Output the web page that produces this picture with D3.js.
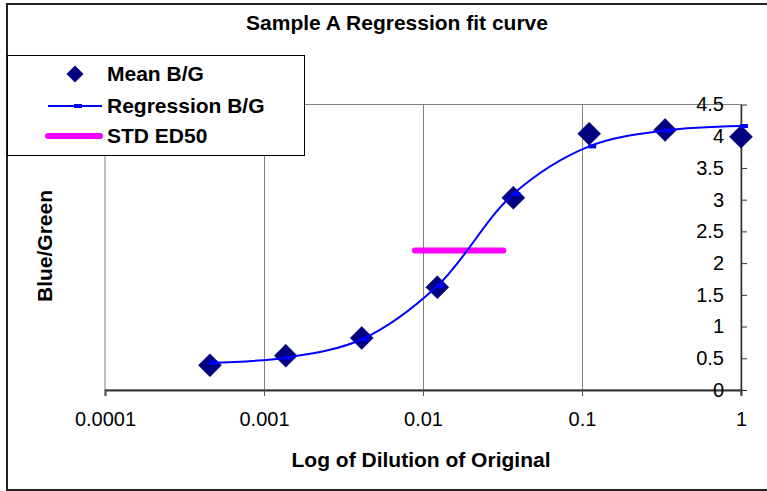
<!DOCTYPE html>
<html>
<head>
<meta charset="utf-8">
<script src="https://cdn.jsdelivr.net/npm/d3@7"></script>
<style>
  body { margin: 0; background: #fff; }
  svg text { font-family: "Liberation Sans", Arial, sans-serif; }
</style>
</head>
<body>
<div id="chart"></div>
<script>
// Chart size
var width = 767;
var height = 491;

// Data
var dilutions = [0.000457, 0.00137, 0.00412, 0.0123, 0.037, 0.111, 0.333, 1];
var meanBG = [0.39, 0.54, 0.82, 1.62, 3.03, 4.04, 4.10, 3.99];
var regressionBG = [0.43, 0.51, 0.80, 1.64, 3.09, 3.84, 4.09, 4.16];
var ed50X = [0.0089, 0.032];
var ed50Y = [2.2, 2.2];
var xTicks = [0.0001, 0.001, 0.01, 0.1, 1];
var xTickLabels = ["0.0001", "0.001", "0.01", "0.1", "1"];
var yTicks = [0, 0.5, 1, 1.5, 2, 2.5, 3, 3.5, 4, 4.5];
var legendNames = ["Mean B/G", "Regression B/G", "STD ED50"];

// plot area
var plot = { left: 105, right: 741, top: 104.5, bottom: 390 };

var x = d3.scaleLog().domain([0.0001, 1]).range([plot.left, plot.right]);
var y = d3.scaleLinear().domain([0, 4.5]).range([plot.bottom, plot.top]);

var svg = d3.select("#chart")
  .append("svg")
  .attr("width", width)
  .attr("height", height);

// outer chart frame
svg.append("rect")
  .attr("x", 7).attr("y", 4)
  .attr("width", 780).attr("height", 486)
  .attr("fill", "#fff")
  .attr("stroke", "#222")
  .attr("stroke-width", 2);

// plot area frame
svg.append("rect")
  .attr("x", plot.left).attr("y", plot.top)
  .attr("width", plot.right - plot.left)
  .attr("height", plot.bottom - plot.top)
  .attr("fill", "none")
  .attr("stroke", "#808080")
  .attr("stroke-width", 1);

// vertical gridlines
svg.selectAll(".grid")
  .data(xTicks.slice(1, -1))
  .enter()
  .append("line")
  .attr("class", "grid")
  .attr("x1", function(d) { return Math.round(x(d)) + 0.5; })
  .attr("x2", function(d) { return Math.round(x(d)) + 0.5; })
  .attr("y1", plot.top)
  .attr("y2", plot.bottom)
  .attr("stroke", "#808080")
  .attr("stroke-width", 1);

// x axis (bottom)
var xAxis = d3.axisBottom(x)
  .tickValues(xTicks)
  .tickFormat(function(d, i) { return xTickLabels[i]; })
  .tickSize(6)
  .tickPadding(16);

var gx = svg.append("g")
  .attr("transform", "translate(0," + plot.bottom + ")")
  .call(xAxis);
gx.select(".domain").attr("stroke", "#333").attr("stroke-width", 2);
gx.selectAll(".tick line").attr("stroke", "#555");
gx.selectAll("text")
  .attr("fill", "#000")
  .style("font-size", "20px");

// y axis (drawn on the right, labels to the left)
var yAxis = d3.axisLeft(y)
  .tickValues(yTicks)
  .tickFormat(function(d) { return String(d); })
  .tickSizeInner(-6)
  .tickSizeOuter(0)
  .tickPadding(17);

var gy = svg.append("g")
  .attr("transform", "translate(" + plot.right + ",0)")
  .call(yAxis);
gy.select(".domain").attr("stroke", "#333").attr("stroke-width", 1.5);
gy.selectAll(".tick line").attr("stroke", "#333");
gy.selectAll("text")
  .attr("fill", "#000")
  .style("font-size", "20px");

// little tick below the axis end
svg.append("line")
  .attr("x1", plot.right).attr("x2", plot.right)
  .attr("y1", plot.bottom).attr("y2", plot.bottom + 5)
  .attr("stroke", "#333");

// diamonds for mean B/G
function diamond(r) {
  return "M0," + (-r) + "L" + r + ",0L0," + r + "L" + (-r) + ",0Z";
}

svg.selectAll(".mean")
  .data(dilutions)
  .enter()
  .append("path")
  .attr("class", "mean")
  .attr("d", diamond(11.5))
  .attr("transform", function(d, i) { return "translate(" + x(d) + "," + y(meanBG[i]) + ")"; })
  .attr("fill", "#000080")
  .attr("stroke", "#000060")
  .attr("stroke-width", 0.5);

// STD ED50 line
var ed50 = ed50X.map(function(d, i) { return [d, ed50Y[i]]; });
svg.append("path")
  .datum(ed50)
  .attr("d", d3.line().x(function(d) { return x(d[0]); }).y(function(d) { return y(d[1]); }))
  .attr("stroke", "#ff00ff")
  .attr("stroke-width", 6)
  .attr("stroke-linecap", "round")
  .attr("fill", "none");

// regression curve (smoothed)
var reg = dilutions.map(function(d, i) { return [d, regressionBG[i]]; });
var regLine = d3.line()
  .x(function(d) { return x(d[0]); })
  .y(function(d) { return y(d[1]); })
  .curve(d3.curveCatmullRom.alpha(0.5));

svg.append("path")
  .datum(reg)
  .attr("d", regLine)
  .attr("stroke", "#0000ff")
  .attr("stroke-width", 2)
  .attr("fill", "none");

// dash markers on regression
svg.selectAll(".regmark")
  .data(reg)
  .enter()
  .append("rect")
  .attr("class", "regmark")
  .attr("x", function(d) { return x(d[0]) - 1; })
  .attr("y", function(d) { return y(d[1]) - 2; })
  .attr("width", 8)
  .attr("height", 4)
  .attr("fill", "#0000ff");

// title
svg.append("text")
  .attr("x", 397)
  .attr("y", 30)
  .attr("text-anchor", "middle")
  .style("font-size", "21px")
  .style("font-weight", "bold")
  .text("Sample A Regression fit curve");

// axis titles
svg.append("text")
  .attr("x", 421)
  .attr("y", 467)
  .attr("text-anchor", "middle")
  .style("font-size", "21px")
  .style("font-weight", "bold")
  .text("Log of Dilution of Original");

svg.append("text")
  .attr("transform", "translate(52,246) rotate(-90)")
  .attr("text-anchor", "middle")
  .style("font-size", "21px")
  .style("font-weight", "bold")
  .text("Blue/Green");

// legend
var legend = svg.append("g");
legend.append("rect")
  .attr("x", 7.5).attr("y", 55.5)
  .attr("width", 297).attr("height", 100)
  .attr("fill", "#fff")
  .attr("stroke", "#000")
  .attr("stroke-width", 1);

var legendY = [74, 106, 136];

legend.append("path")
  .attr("d", diamond(8.5))
  .attr("transform", "translate(75," + legendY[0] + ")")
  .attr("fill", "#000080");

legend.append("line")
  .attr("x1", 48).attr("x2", 102)
  .attr("y1", legendY[1]).attr("y2", legendY[1])
  .attr("stroke", "#0000ff").attr("stroke-width", 2);
legend.append("rect")
  .attr("x", 74).attr("y", legendY[1] - 2)
  .attr("width", 8).attr("height", 4)
  .attr("fill", "#0000ff");

legend.append("line")
  .attr("x1", 48).attr("x2", 100)
  .attr("y1", legendY[2]).attr("y2", legendY[2])
  .attr("stroke", "#ff00ff").attr("stroke-width", 6)
  .attr("stroke-linecap", "round");

legend.selectAll(".legtext")
  .data(legendNames)
  .enter()
  .append("text")
  .attr("class", "legtext")
  .attr("x", 107)
  .attr("y", function(d, i) { return legendY[i] + 7; })
  .style("font-size", "21px")
  .style("font-weight", "bold")
  .text(function(d) { return d; });
</script>
</body>
</html>
